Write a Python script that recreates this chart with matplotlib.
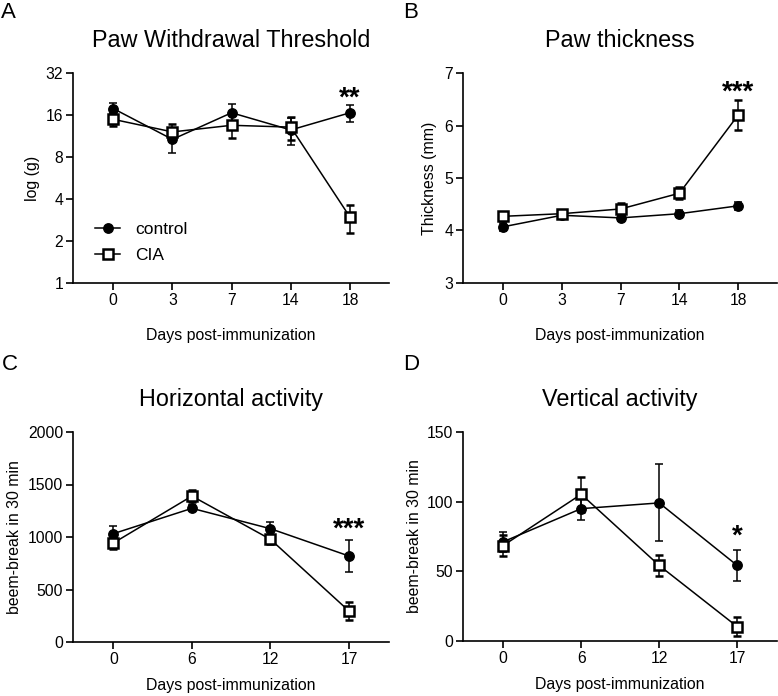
import numpy as np
import matplotlib
matplotlib.use('Agg')
import matplotlib.pyplot as plt
from matplotlib.lines import Line2D
from matplotlib.ticker import FixedLocator, NullLocator

plt.rcParams['font.family'] = ['Liberation Sans', 'DejaVu Sans']

#___________________Datos___________________________

dias_AB = ['0', '3', '7', '14', '18']
dias_CD = ['0', '6', '12', '17']

pwt_control = [17.8, 10.7, 16.6, 12.5, 16.6]
pwt_control_sem = [1.6, 2.2, 2.6, 2.8, 2.4]
pwt_cia = [14.9, 12.1, 13.5, 13.1, 2.97]
pwt_cia_sem = [1.6, 1.7, 2.6, 2.5, 0.67]

grosor_control = [4.07, 4.29, 4.24, 4.32, 4.47]
grosor_control_sem = [0.08, 0.05, 0.06, 0.07, 0.08]
grosor_cia = [4.27, 4.32, 4.41, 4.71, 6.20]
grosor_cia_sem = [0.05, 0.05, 0.12, 0.11, 0.29]

horiz_control = [1032, 1273, 1079, 819]
horiz_control_sem = [70, 30, 65, 148]
horiz_cia = [943, 1390, 978, 295]
horiz_cia_sem = [60, 60, 40, 85]

vert_control = [71.2, 95.0, 99.1, 54.2]
vert_control_sem = [7.0, 7.8, 27.6, 11.0]
vert_cia = [68.5, 105.3, 54.2, 10.3]
vert_cia_sem = [7.4, 12.4, 7.6, 7.0]

W, H = 778, 696
fig = plt.figure(figsize=(W / 100, H / 100), dpi=100)

estilo_control = dict(color='black', lw=1.1, marker='o', ms=6.8,
                      mfc='black', mec='black')
estilo_cia = dict(color='black', lw=1.1, marker='s', ms=7.5,
                  mfc='white', mec='black', mew=1.8)

def caja(x0, x1, y0, y1):
    return [x0 / W, 1 - y1 / H, (x1 - x0) / W, (y1 - y0) / H]

#___________________Función para dibujar un panel___________________________

def panel(rect, dias, ctrl, ctrl_sem, cia, cia_sem, titulo, ylabel, xlim,
          ylim, yticks, ylab_x, xlab_y, estrellas, y_estrellas):
    ax = fig.add_axes(rect)
    x = np.arange(len(dias))
    ax.errorbar(x, ctrl, yerr=ctrl_sem, capsize=3, capthick=1.1,
                elinewidth=1.1, zorder=3, **estilo_control)
    ax.errorbar(x, cia, yerr=cia_sem, capsize=3, capthick=1.1,
                elinewidth=1.1, zorder=4, **estilo_cia)
    ax.set_xlim(*xlim)
    ax.set_xticks(x)
    ax.set_xticklabels(dias)
    ax.set_ylim(*ylim)
    ax.spines['top'].set_visible(False)
    ax.spines['right'].set_visible(False)
    for s in ['left', 'bottom']:
        ax.spines[s].set_linewidth(1.2)
    ax.tick_params(direction='out', length=5, width=1.2, labelsize=11.3, pad=2)
    ax.set_title(titulo, fontsize=16.8, pad=19)
    ax.set_ylabel(ylabel, fontsize=11.4)
    ax.set_xlabel('Days post-immunization', fontsize=11.4)
    ax.yaxis.set_label_coords(ylab_x, 0.5)
    ax.xaxis.set_label_coords(0.5, xlab_y)
    ax.text(len(dias) - 1, y_estrellas, estrellas, ha='center', va='baseline',
            fontsize=20, fontweight='bold')
    if yticks is not None:
        ax.set_yticks(yticks)
    return ax

#___________________Panel A___________________________

axA = panel(caja(73, 389, 73, 283), dias_AB, pwt_control, pwt_control_sem,
            pwt_cia, pwt_cia_sem, 'Paw Withdrawal Threshold', 'log (g)',
            (-0.68, 4.66), (1, 32), None, -0.104, -0.214, '**', 18.8)
axA.set_yscale('log', base=2)
axA.set_ylim(1, 32)
axA.yaxis.set_major_locator(FixedLocator([1, 2, 4, 8, 16, 32]))
axA.yaxis.set_minor_locator(NullLocator())
axA.set_yticklabels(['1', '2', '4', '8', '16', '32'])
manijas = [Line2D([], [], **estilo_control), Line2D([], [], **estilo_cia)]
axA.legend(manijas, ['control', 'CIA'], loc='center left',
           bbox_to_anchor=(0.07, 0.193), frameon=False, fontsize=12.5,
           handlelength=1.45, handletextpad=0.85, labelspacing=0.67,
           borderpad=0, borderaxespad=0)

#___________________Panel B___________________________

panel(caja(463, 777, 73, 283), dias_AB, grosor_control, grosor_control_sem,
      grosor_cia, grosor_cia_sem, 'Paw thickness', 'Thickness (mm)',
      (-0.68, 4.66), (3, 7), [3, 4, 5, 6, 7], -0.083, -0.214, '***', 6.50)

#___________________Panel C___________________________

panel(caja(73, 389, 432, 642), dias_CD, horiz_control, horiz_control_sem,
      horiz_cia, horiz_cia_sem, 'Horizontal activity', 'beem-break in 30 min',
      (-0.515, 3.51), (0, 2000), [0, 500, 1000, 1500, 2000], -0.161, -0.171,
      '***', 1000)

#___________________Panel D___________________________

panel(caja(463, 777, 432, 641), dias_CD, vert_control, vert_control_sem,
      vert_cia, vert_cia_sem, 'Vertical activity', 'beem-break in 30 min',
      (-0.515, 3.51), (0, 150), [0, 50, 100, 150], -0.13, -0.171, '*', 70)

#___________________Letras de panel___________________________

for letra, (px, py) in zip('ABCD', [(1, 18), (403, 18), (2, 370), (403, 370)]):
    fig.text(px / W, 1 - py / H, letra, fontsize=16, ha='left', va='baseline')

fig.savefig('out.png', dpi=100)
